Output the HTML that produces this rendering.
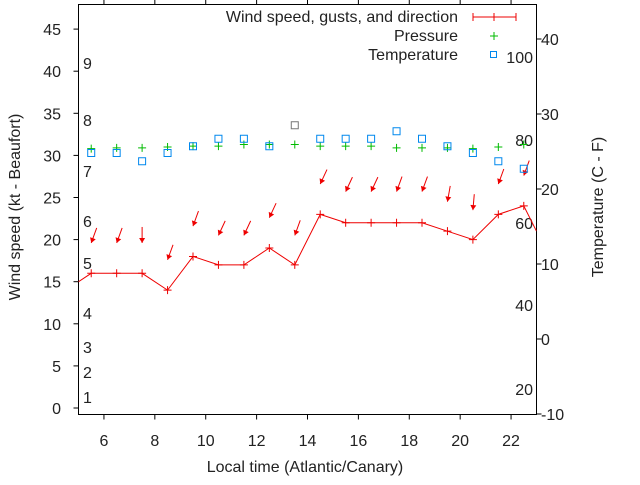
<!DOCTYPE html>
<html><head><meta charset="utf-8"><style>
body{margin:0;background:#fff}
svg text{font-family:"Liberation Sans",sans-serif;font-size:16px;fill:#222}
</style></head><body>
<svg id="c" width="640" height="480" xmlns="http://www.w3.org/2000/svg"></svg>
<script>
const hours=[5.5,6.5,7.5,8.5,9.5,10.5,11.5,12.5,13.5,14.5,15.5,16.5,17.5,18.5,19.5,20.5,21.5,22.5];
const windSpeed=[16,16,16,14,18,17,17,19,17,23,22,22,22,22,21,20,23,24];
const gusts=[19.6,19.6,19.6,17.6,21.6,20.5,20.5,22.6,20.5,26.6,25.7,25.7,25.7,25.7,24.5,23.5,26.6,27.6];
const windDir=[20,20,0,20,20,25,25,25,20,25,25,25,20,20,10,5,20,20];
const pressure=[30.8,30.9,30.9,31.0,31.1,31.1,31.3,31.3,31.3,31.1,31.1,31.1,30.9,30.9,30.9,30.8,31.0,31.3];
const temperature=[24.8,24.8,23.7,24.8,25.7,26.7,26.7,25.7,28.5,26.7,26.7,26.7,27.7,26.7,25.7,24.8,23.7,22.7];
const xTicks=[6,8,10,12,14,16,18,20,22];
const yTicks=[0,5,10,15,20,25,30,35,40,45];
const y2Ticks=[-10,0,10,20,30,40];
const beaufort=[[1,397],[2,372],[3,347],[4,313],[5,263],[6,221],[7,171],[8,120],[9,63]];
const fahr=[[20,389],[40,305],[60,223],[80,140],[100,57]];
const L=78.5,R=536.5,T=4.5,B=414.5;
const X=v=>L+(v-5)*(R-L)/18;
const Y=v=>408-v*8.42;
const Y2=v=>339-v*7.5;
const svg=document.getElementById('c');
const NS='http://www.w3.org/2000/svg';
function mk(tag,attrs,parent){const e=document.createElementNS(NS,tag);for(const k in attrs)e.setAttribute(k,attrs[k]);(parent||svg).appendChild(e);return e;}
function txt(s,x,y,anchor,parent){const t=mk('text',{x:x,y:y,'text-anchor':anchor||'start'},parent);t.textContent=s;return t;}
const frame=mk('rect',{x:L,y:T,width:R-L,height:B-T,fill:'none',stroke:'#000','stroke-width':1});


xTicks.forEach(v=>{const x=X(v);
 mk('line',{x1:x,x2:x,y1:B,y2:B+5,stroke:'#000'});mk('line',{x1:x,x2:x,y1:T,y2:T-5,stroke:'#000'});
 const t=txt(v,x,446,'middle');
 
 });
yTicks.forEach(v=>{const y=Y(v);
 mk('line',{x1:L-5,x2:L,y1:y,y2:y,stroke:'#000'});
 const t=txt(v,61,y+6,'end');
 
 });
y2Ticks.forEach(v=>{const y=Y2(v);
 mk('line',{x1:R,x2:R+5,y1:y,y2:y,stroke:'#000'});
 const t=txt(v,541,y+6,'start');
 
 });
beaufort.forEach(([v,y])=>{const t=txt(v,83,y+6,'start');
 
 });
fahr.forEach(([v,y])=>{const t=txt(v,533,y+6,'end');
 
 });
let t=txt('Local time (Atlantic/Canary)',305,472,'middle');


t=txt('Wind speed (kt - Beaufort)',0,0,'middle');t.setAttribute('transform','translate(20,207) rotate(-90)');


t=txt('Temperature (C - F)',0,0,'middle');t.setAttribute('transform','translate(603,207) rotate(-90)');


const defs=mk('defs',{});const cp=mk('clipPath',{id:'cl'},defs);mk('rect',{x:L,y:T,width:R-L,height:B-T},cp);
const g=mk('g',{'clip-path':'url(#cl)'});
const n=hours.length;
let d='M'+X(5)+','+Y(windSpeed[0]-1);
hours.forEach((h,i)=>{d+=' L'+X(h)+','+Y(windSpeed[i]);});
d+=' L'+X(23)+','+Y(windSpeed[n-1]-3);
const wl=mk('path',{d:d,fill:'none',stroke:'#e00','stroke-width':1},g);


hours.forEach((h,i)=>{const x=X(h),y=Y(windSpeed[i]);
 const p=mk('path',{d:`M${x-4},${y}H${x+4}M${x},${y-4}V${y+4}`,stroke:'#e00'},g);
 
 
 const hx=x,hy=Y(gusts[i]);const a=windDir[i]*Math.PI/180;const len=16;
 const tx=hx+Math.sin(a)*len,ty=hy-Math.cos(a)*len;
 const ux=(hx-tx)/len,uy=(hy-ty)/len;
 const ar=mk('g',{},g);
 
 
 mk('line',{x1:tx,y1:ty,x2:hx,y2:hy,stroke:'#e00'},ar);
 const bx=hx-ux*5,by=hy-uy*5;
 mk('path',{d:`M${hx},${hy}L${bx-uy*3},${by+ux*3}L${bx+uy*3},${by-ux*3}Z`,fill:'#e00'},ar);
 const py=Y(pressure[i]);
 const pp=mk('path',{d:`M${x-4},${py}H${x+4}M${x},${py-4}V${py+4}`,stroke:'#0b0'},g);
 
 
 const ty2=Y2(temperature[i]);
 const r=mk('rect',{x:x-3.5,y:ty2-3.5,width:7,height:7,fill:'none',stroke:i==8?'#777':'#08e'},g);
 
 
});
const lg=mk('g',{});


txt('Wind speed, gusts, and direction',458,22,'end',lg);
mk('path',{d:'M473,17H516M473,13V21M516,13V21M494,13V21',stroke:'#e00'},lg);
txt('Pressure',458,41,'end',lg);
mk('path',{d:'M490,36H498M494,32V40',stroke:'#0b0'},lg);
txt('Temperature',458,60,'end',lg);
mk('rect',{x:490.5,y:51.5,width:6,height:6,fill:'none',stroke:'#08e'},lg);
</script>
</body></html>
